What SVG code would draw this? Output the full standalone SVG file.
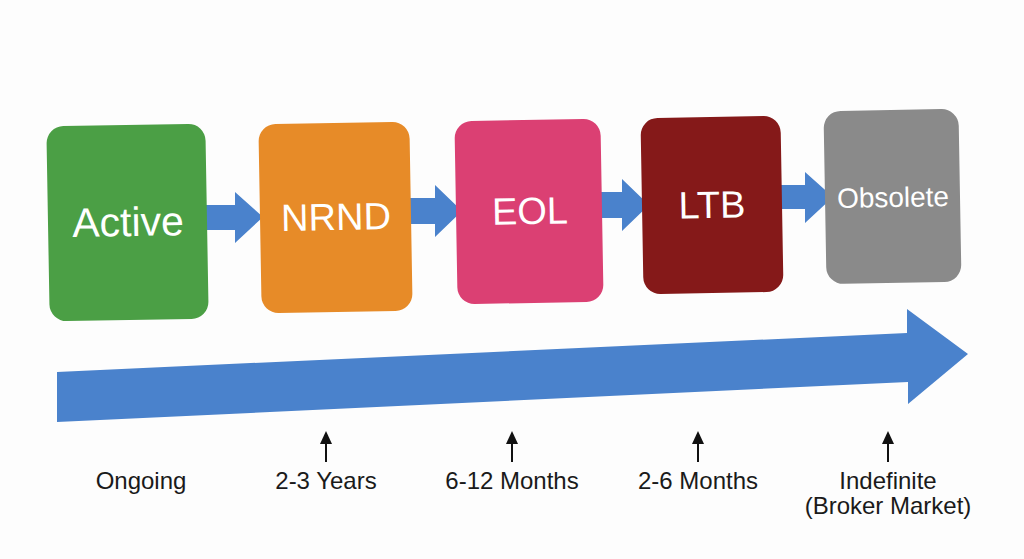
<svg xmlns="http://www.w3.org/2000/svg" width="1024" height="559" viewBox="0 0 1024 559">
  <style>
    .box-label { font-family: "Liberation Sans", Arial, sans-serif; fill: #ffffff; text-anchor: middle; }
    .time { font-family: "Liberation Sans", Arial, sans-serif; font-size: 24px; fill: #1a1a1a; text-anchor: middle; }
    .flow { fill: #4a82cc; }
    .tick { stroke: #111111; stroke-width: 2; fill: none; }
    .tickhead { fill: #111111; }
  </style>
  <rect width="1024" height="559" fill="#fdfdfd"/>

  <g id="connectors">
    <polygon class="flow" points="205,205 235,205 235,192 263,217 235,243 235,230 205,230"/>
    <polygon class="flow" points="409,198 435,198 435,185 462,211 435,237 435,224 409,224"/>
    <polygon class="flow" points="600,192 622,192 622,179 649,205 622,231 622,218 600,218"/>
    <polygon class="flow" points="780,185 805,185 805,172 833,197 805,223 805,209 780,209"/>
    <polygon id="timeline" class="flow" points="57,372 907,333 907,309 968,354 908,404 908,382 57,422"/>
    <g id="ticks">
      <line class="tick" x1="326" y1="442" x2="326" y2="462"/>
      <polygon class="tickhead" points="326,431 320,444 332,444"/>
      <line class="tick" x1="512" y1="442" x2="512" y2="462"/>
      <polygon class="tickhead" points="512,431 506,444 518,444"/>
      <line class="tick" x1="698" y1="442" x2="698" y2="462"/>
      <polygon class="tickhead" points="698,431 692,444 704,444"/>
      <line class="tick" x1="888" y1="442" x2="888" y2="462"/>
      <polygon class="tickhead" points="888,431 882,444 894,444"/>
    </g>
  </g>

  <g id="active" transform="rotate(-1 128 222)">
    <rect x="48" y="125" width="159" height="195" rx="17" fill="#4b9f45"/>
    <text class="box-label" x="128" y="236" font-size="41">Active</text>
  </g>
  <g id="nrnd" transform="rotate(-1 336 217)">
    <rect x="260" y="123" width="151" height="189" rx="17" fill="#e78b28"/>
    <text class="box-label" x="336" y="230" font-size="38">NRND</text>
  </g>
  <g id="eol" transform="rotate(-1 529 211)">
    <rect x="456" y="120" width="146" height="183" rx="17" fill="#db4073"/>
    <text class="box-label" x="530" y="224" font-size="38">EOL</text>
  </g>
  <g id="ltb" transform="rotate(-1 712 205)">
    <rect x="642" y="117" width="140" height="176" rx="17" fill="#851919"/>
    <text class="box-label" x="712" y="218" font-size="38">LTB</text>
  </g>
  <g id="obsolete" transform="rotate(-1 892 197)">
    <rect x="825" y="110" width="135" height="173" rx="17" fill="#8a8a8a"/>
    <text class="box-label" x="893" y="207" font-size="28">Obsolete</text>
  </g>

  <g id="labels">
    <text class="time" x="141" y="489">Ongoing</text>
    <text class="time" x="326" y="489">2-3 Years</text>
    <text class="time" x="512" y="489">6-12 Months</text>
    <text class="time" x="698" y="489">2-6 Months</text>
    <text class="time" x="888" y="489">Indefinite</text>
    <text class="time" x="888" y="514">(Broker Market)</text>
  </g>
</svg>
